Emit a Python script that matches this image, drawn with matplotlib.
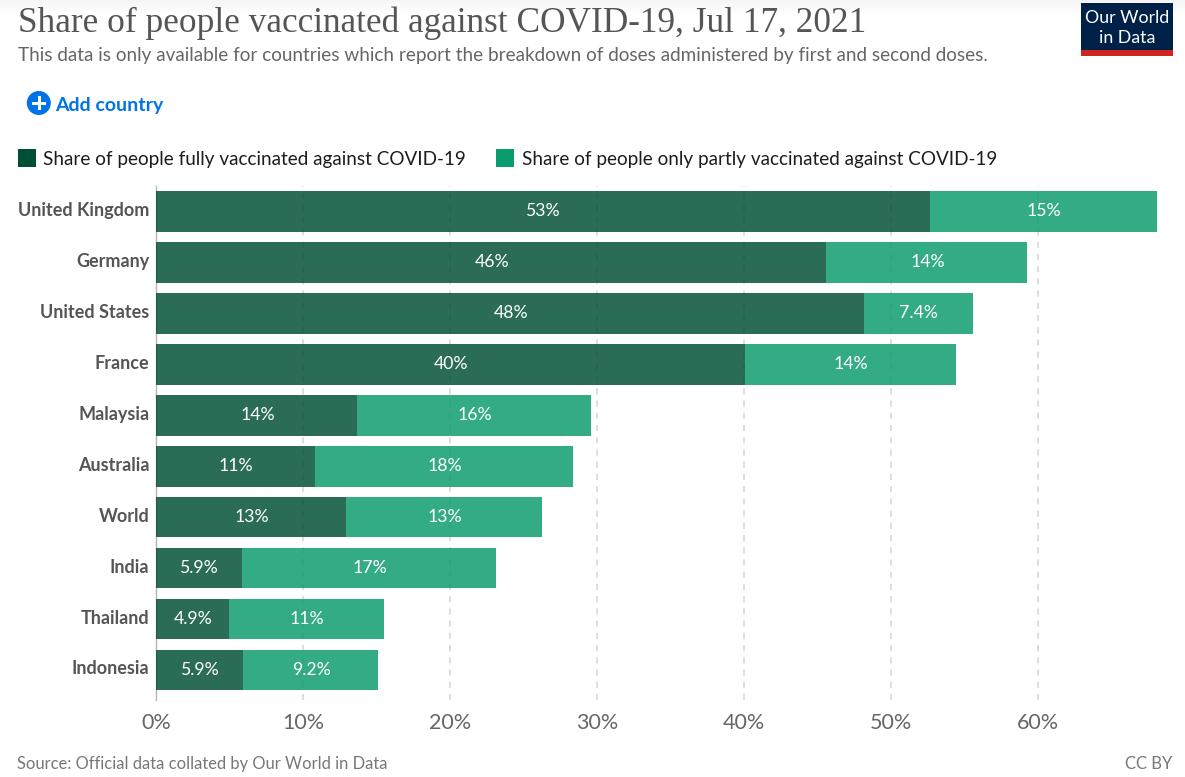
import numpy as np
import matplotlib.pyplot as plt
from matplotlib.patches import Circle, Rectangle
from matplotlib.transforms import ScaledTranslation

W, H = 1185, 777

countries = ["United Kingdom", "Germany", "United States", "France", "Malaysia",
             "Australia", "World", "India", "Thailand", "Indonesia"]
fully = [52.65, 45.6, 48.15, 40.05, 13.7, 10.8, 12.9, 5.85, 4.95, 5.9]
partly = [15.45, 13.65, 7.4, 14.35, 15.9, 17.55, 13.35, 17.3, 10.55, 9.2]
fully_labels = ["53%", "46%", "48%", "40%", "14%", "11%", "13%", "5.9%", "4.9%", "5.9%"]
partly_labels = ["15%", "14%", "7.4%", "14%", "16%", "18%", "13%", "17%", "11%", "9.2%"]
xticks = [0, 10, 20, 30, 40, 50, 60]

DARK = "#004e35"
LIGHT = "#0a9b6e"
GREY = "#555555"

plt.rcParams["font.family"] = ["Lato", "DejaVu Sans"]


def px(x, y):
    # pixel position from the top left corner -> figure fraction
    return x / W, 1 - y / H


def ftext(x, y, s, **kw):
    fx, fy = px(x, y)
    kw.setdefault("va", "center")
    return fig.text(fx, fy, s, **kw)


def frect(x, y, w, h, color):
    fx, fy = px(x, y + h)
    fig.add_artist(Rectangle((fx, fy), w / W, h / H, transform=fig.transFigure,
                             facecolor=color, edgecolor="none"))


fig = plt.figure(figsize=(W / 100, H / 100), dpi=100)

# faint shadow along the top edge of the page
shade = np.tile(np.linspace(0.96, 1.0, 16).reshape(-1, 1), (1, W))
fig.figimage(shade, 0, H - 16, cmap="gray", vmin=0, vmax=1, origin="upper", zorder=0)

# plot area: 0% sits at x=156, 14.7 px per percent
left, bottom = px(156, 700)
ax = fig.add_axes([left, bottom, (1175 - 156) / W, (700 - 186) / H])
ax.set_xlim(0, (1175 - 156) / 14.7)
ax.set_ylim(9.59, -0.5)

ypos = range(len(countries))
ax.barh(ypos, fully, height=0.8, color=DARK, alpha=0.83, zorder=3)
ax.barh(ypos, partly, left=fully, height=0.8, color=LIGHT, alpha=0.83, zorder=3)

for i in ypos:
    ax.annotate(fully_labels[i], (fully[i] / 2, i), xytext=(0.7, 0),
                textcoords="offset pixels", color="white", fontsize=12.7,
                ha="center", va="center", zorder=4)
    ax.annotate(partly_labels[i], (fully[i] + partly[i] / 2, i), xytext=(0.7, 0),
                textcoords="offset pixels", color="white", fontsize=12.7,
                ha="center", va="center", zorder=4)

for s in ax.spines.values():
    s.set_visible(False)
ax.spines["left"].set_visible(True)
ax.spines["left"].set_color("#b5b5b5")
ax.spines["left"].set_linewidth(1)

ax.set_axisbelow(True)
ax.grid(axis="x", color="#d4d4d4", linestyle=(0, (4, 4)), linewidth=1.1)
ax.set_xticks(xticks)
ax.set_xticklabels([f"{t}%" for t in xticks], fontsize=15.5, color="#666666")
ax.set_yticks(list(ypos))
ax.set_yticklabels(countries, fontsize=13, color=GREY, fontweight="bold")
ax.tick_params(axis="both", length=0)
ax.tick_params(axis="x", pad=9.5)
ax.tick_params(axis="y", pad=4.8)
ax.patch.set_alpha(0)

# country names sit a little above the bar centres
lift = ScaledTranslation(0, 2.5 / 100, fig.dpi_scale_trans)
for lab in ax.get_yticklabels():
    lab.set_transform(lab.get_transform() + lift)

# header
ftext(18, 23, "Share of people vaccinated against COVID-19, Jul 17, 2021",
      fontsize=25.4, color="#555555", family=["Liberation Serif", "DejaVu Serif"])
ftext(18, 56, "This data is only available for countries which report the breakdown "
      "of doses administered by first and second doses.", fontsize=13.56, color="#666666")

# logo
frect(1081, 3, 92, 53, "#002147")
frect(1081, 50, 92, 6, "#ce261e")
ftext(1127, 18, "Our World", fontsize=12.8, color="white", ha="center")
ftext(1127, 38, "in Data", fontsize=12.8, color="white", ha="center")

# add country button
fig.add_artist(Circle((38.8, H - 103), 12, transform=None, facecolor="#0073e6",
                      edgecolor="none"))
frect(32, 101.5, 14, 3, "white")
frect(37.5, 96, 3, 14, "white")
ftext(55.5, 105, "Add country", fontsize=14, color="#0073e6", fontweight="bold")

# legend
frect(18, 149, 18, 18, DARK)
ftext(43, 160, "Share of people fully vaccinated against COVID-19", fontsize=13.55,
      color="#1d1d1d")
frect(496, 149, 18, 18, LIGHT)
ftext(522, 160, "Share of people only partly vaccinated against COVID-19", fontsize=13.57,
      color="#1d1d1d")

# footer
ftext(17, 764, "Source: Official data collated by Our World in Data", fontsize=11.9,
      color="#777777")
ftext(1172, 764, "CC BY", fontsize=12, color="#777777", ha="right")

fig.savefig("out.png", dpi=100, facecolor="white")
